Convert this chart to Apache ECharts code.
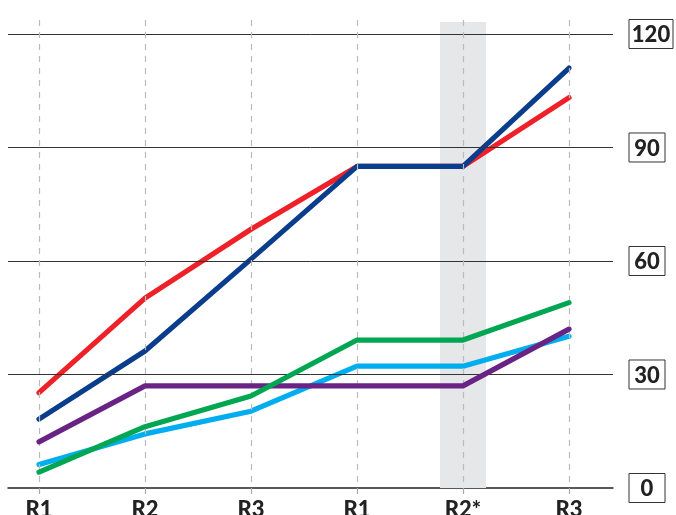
<!DOCTYPE html>
<html><head><meta charset="utf-8">
<script src="https://cdn.jsdelivr.net/npm/echarts@6/dist/echarts.min.js"></script>
<style>html,body{margin:0;padding:0;background:#fff}#c{width:676px;height:515px}</style>
</head><body><div id="c"></div>
<script>
const CATEGORIES = ['R1', 'R2', 'R3', 'R1', 'R2*', 'R3'];
const Y_TICKS = [0, 30, 60, 90, 120];
const HIGHLIGHT_INDEX = 4;
const RED = [25.2, 50.2, 68.4, 85, 85, 103.2];
const NAVY = [18.2, 36.2, 60.5, 85, 85, 111];
const CYAN = [6.2, 14.3, 20.3, 32.2, 32.2, 40.1];
const PURPLE = [12.2, 27, 27, 27, 27, 42];
const GREEN = [4.2, 16.2, 24.3, 39.1, 39.1, 49];

const X_MIN = -0.2925, X_MAX = 5.415;
const Y_MIN = 0, Y_MAX = 123.7;
const SHADE_BOTTOM = -7.2;
const FONT = 'Lato';

const chart = echarts.init(document.getElementById('c'), null, {renderer: 'canvas'});
const idx = CATEGORIES.map((_, i) => i);
const mk = (arr) => arr.map((v, i) => [i, v]);

function lineSeries(name, data, color, z) {
  return {
    name, type: 'line', data: mk(data), symbol: 'none', z, clip: false,
    lineStyle: {color, width: 5.2, cap: 'round', join: 'round'},
    emphasis: {disabled: true}, silent: true
  };
}

const option = {
  animation: false,
  grid: {left: 8, right: 63, top: 20, bottom: 27, containLabel: false, outerBoundsMode: 'none'},
  xAxis: {
    type: 'value', min: X_MIN, max: X_MAX,
    splitLine: {show: false},
    axisLine: {show: true, onZero: false, lineStyle: {color: '#222', width: 1.5}},
    axisTick: {show: true, customValues: idx, length: 6, lineStyle: {color: '#aaa', width: 1.2}},
    axisLabel: {
      customValues: idx, margin: 11,
      formatter: v => CATEGORIES[Math.round(v)] || '',
      fontFamily: FONT, fontWeight: 900, fontSize: 22, color: '#222'
    }
  },
  yAxis: {
    type: 'value', position: 'right', min: Y_MIN, max: Y_MAX,
    splitLine: {show: false}, axisLine: {show: false}, axisTick: {show: false},
    axisLabel: {
      customValues: Y_TICKS, margin: 16, align: 'left',
      formatter: v => (String(v).length > 2 ? '{w|' : '{n|') + v + '}',
      borderColor: '#333', borderWidth: 1, padding: [4, 4, 2, 4],
      rich: {
        n: {width: 28, height: 23, align: 'center', fontFamily: FONT, fontWeight: 900, fontSize: 22, color: '#222'},
        w: {width: 36, height: 23, align: 'center', fontFamily: FONT, fontWeight: 900, fontSize: 22, color: '#222'}
      }
    }
  },
  series: [
    {
      type: 'line', data: [[0, null]], symbol: 'none', z: 1, clip: false, silent: true,
      markArea: {
        silent: true, itemStyle: {color: '#e6e7e9'},
        data: [[{coord: [HIGHLIGHT_INDEX - 0.217, Y_MAX - 0.5]}, {coord: [HIGHLIGHT_INDEX + 0.217, SHADE_BOTTOM]}]]
      },
      markLine: {
        silent: true, symbol: 'none', label: {show: false},
        data: [
          ...Y_TICKS.filter(v => v > 0).map(v => ({yAxis: v, lineStyle: {color: '#333', width: 1, type: 'solid'}})),
          ...idx.map(i => [
            {coord: [i, Y_MAX], lineStyle: {color: '#bbb', width: 1.2, type: [6, 6]}},
            {coord: [i, 0]}
          ])
        ]
      }
    },
    lineSeries('red', RED, '#ee2028', 2),
    lineSeries('navy', NAVY, '#0a3d8c', 3),
    lineSeries('cyan', CYAN, '#00aeef', 4),
    lineSeries('purple', PURPLE, '#682385', 5),
    lineSeries('green', GREEN, '#00a651', 6)
  ]
};
chart.setOption(option);
</script>
</body></html>
